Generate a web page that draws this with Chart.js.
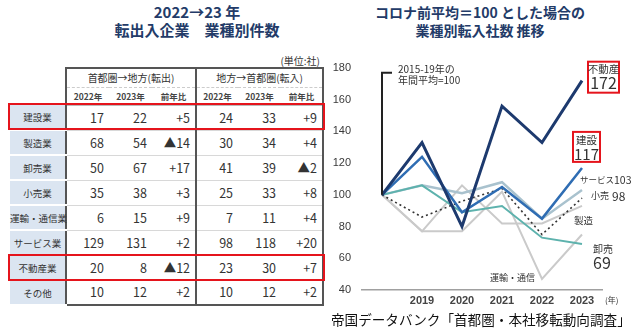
<!DOCTYPE html>
<html lang="ja">
<head>
<meta charset="utf-8">
<script src="https://cdn.jsdelivr.net/npm/chart.js@4.4.1/dist/chart.umd.min.js"></script>
<style>
  body { margin: 0; width: 640px; height: 331px; background: #fff; position: relative; overflow: hidden;
         font-family: "Noto Sans CJK JP", "Noto Sans", sans-serif; color: #333; }
  .title { position: absolute; top: 3px; width: 300px; text-align: center; color: #233b68;
           font-weight: bold; line-height: 18px; }
  #left-title { left: 47px; font-size: 15px; }
  #right-title { left: 330px; font-size: 14px; }
  #unit { position: absolute; right: 320px; top: 53px; font-size: 10px; color: #333; }
  #tbl { position: absolute; left: 10px; top: 67px; border-collapse: collapse; table-layout: fixed; width: 313px; }
  #tbl td { padding: 0; white-space: nowrap; box-sizing: border-box; line-height: 14px; }
  #tbl tr.h1 td { height: 19px; font-size: 10px; text-align: center; color: #333; }
  #tbl tr.h2 td { height: 18px; font-size: 8.5px; font-weight: bold; text-align: center; color: #444; }
  #tbl tr.row td { height: 25px; font-size: 12.5px; text-align: right; padding-right: 5px; border-bottom: 1px solid #d8d8d8; }
  #tbl tr.row td.lab { background: #dbe5f1; text-align: center; padding-right: 0; font-size: 9.5px; border-bottom: 2px solid #fff; }
  #tbl td.gl { border-left: 2px solid #555; }
  #tbl td.gr { border-right: 2px solid #555; }
  #tbl tr.h1 td.top { border-top: 2px solid #555; border-bottom: 1px dashed #ccc; }
  #tbl tr.h2 td { border-bottom: 1px solid #bbb; }
  #tbl tr.h2 td.blank, #tbl tr.h1 td.blank { border: none; }
  #tbl tr.last td { border-bottom: 2px solid #555; }
  #tbl tr.last td.lab { border-bottom: 2px solid #fff; }
  .redbox { position: absolute; border: 2px solid #e5141c; box-sizing: border-box; }
  #source { position: absolute; left: 331px; top: 309px; font-size: 13.6px; color: #111; white-space: nowrap; }
  #wrap { position: absolute; left: 330px; top: 0; width: 310px; height: 331px; }
</style>
</head>
<body>
<div id="left-title" class="title">2022→23 年<br>転出入企業　業種別件数</div>
<div id="right-title" class="title">コロナ前平均＝100 とした場合の<br>業種別転入社数 推移</div>
<div id="unit">(単位:社)</div>
<table id="tbl">
  <colgroup>
    <col style="width:56px"><col style="width:43px"><col style="width:43px"><col style="width:44px">
    <col style="width:42px"><col style="width:43px"><col style="width:42px">
  </colgroup>
  <tbody id="tbl-body"></tbody>
</table>
<div class="redbox" style="left:8px; top:103px; width:317px; height:27px;"></div>
<div class="redbox" style="left:8px; top:254px; width:317px; height:27px;"></div>
<div id="wrap"><canvas id="trend" width="310" height="331"></canvas></div>
<div id="source">帝国データバンク「首都圏・本社移転動向調査」</div>

<script>
// 転出入件数（社）
const industries = ["建設業", "製造業", "卸売業", "小売業", "運輸・通信業", "サービス業", "不動産業", "その他"];
const outbound2022 = [17, 68, 50, 35, 6, 129, 20, 10];
const outbound2023 = [22, 54, 67, 38, 15, 131, 8, 12];
const inbound2022 = [24, 30, 41, 25, 7, 98, 23, 10];
const inbound2023 = [33, 34, 39, 33, 11, 118, 30, 12];

// 転入社数の指数（2015-19年平均=100）
const years = ["", "2019", "2020", "2021", "2022", "2023"];
const realEstate = [100, 133, 80, 156, 133, 172];
const construction = [100, 124, 89, 105, 85, 117];
const services = [100, 106, 101, 108, 85, 103];
const retail = [100, 86, 96, 104, 75, 98];
const wholesale = [100, 106, 89, 93, 73, 69];
const manufacturing = [100, 77, 106, 82, 82, 93];
const transport = [100, 77, 77, 102, 47, 75];
const yTicks = [40, 60, 80, 100, 120, 140, 160, 180];

document.addEventListener("DOMContentLoaded", () => {
    const body = document.getElementById("tbl-body");

    const diffText = (a, b) => {
        const d = b - a;
        return d < 0 ? `▲${-d}` : `+${d}`;
    };

    body.innerHTML = `
        <tr class="h1"><td class="blank"></td>
            <td class="gl top" colspan="3">首都圏→地方(転出)</td>
            <td class="gl gr top" colspan="3">地方→首都圏(転入)</td></tr>
        <tr class="h2"><td class="blank"></td>
            <td class="gl">2022年</td><td>2023年</td><td>前年比</td>
            <td class="gl">2022年</td><td>2023年</td><td class="gr">前年比</td></tr>
    `;

    industries.forEach((name, i) => {
        const row = document.createElement("tr");
        row.className = i === industries.length - 1 ? "row last" : "row";
        row.innerHTML = `
            <td class="lab">${name}</td>
            <td class="gl">${outbound2022[i]}</td>
            <td>${outbound2023[i]}</td>
            <td>${diffText(outbound2022[i], outbound2023[i])}</td>
            <td class="gl">${inbound2022[i]}</td>
            <td>${inbound2023[i]}</td>
            <td class="gr">${diffText(inbound2022[i], inbound2023[i])}</td>
        `;
        body.appendChild(row);
    });

    const last = years.length - 1;

    // 右端のラベル、赤枠、基準値の注記
    const notes = {
        id: "notes",
        afterDatasetsDraw(chart) {
            const { ctx } = chart;
            const xs = chart.scales.x;
            const ys = chart.scales.y;
            const endX = xs.getPixelForValue(last);
            const at = (v) => ys.getPixelForValue(v);
            const font = (size, weight = "normal") => `${weight} ${size}px "Noto Sans CJK JP", "Noto Sans", sans-serif`;

            ctx.save();
            ctx.textBaseline = "middle";
            ctx.fillStyle = "#333";

            // 基準線
            const baseX = xs.getPixelForValue(0);
            ctx.strokeStyle = "#222";
            ctx.lineWidth = 2;
            ctx.beginPath();
            ctx.moveTo(baseX, at(100));
            ctx.lineTo(baseX, at(177));
            ctx.lineTo(baseX + 10, at(177));
            ctx.stroke();
            ctx.font = font(10);
            ctx.textAlign = "left";
            ctx.fillText("2015-19年の", baseX + 16, at(179.5));
            ctx.fillText("年間平均=100", baseX + 16, at(172.5));

            // 不動産
            let y = at(realEstate[last]);
            ctx.strokeStyle = "#e5141c";
            ctx.lineWidth = 2;
            ctx.strokeRect(endX + 6, y - 19, 31, 31);
            ctx.textAlign = "center";
            ctx.font = font(10.5);
            ctx.fillText("不動産", endX + 21.5, y - 12);
            ctx.font = font(16);
            ctx.fillText(String(realEstate[last]), endX + 21.5, y + 2);

            // 建設
            y = at(construction[last]);
            ctx.strokeRect(endX - 9, y - 36, 27, 30);
            ctx.font = font(10.5);
            ctx.fillText("建設", endX + 4.5, y - 28);
            ctx.font = font(15);
            ctx.fillText(String(construction[last]), endX + 4.5, y - 14);

            ctx.textAlign = "left";
            // サービス
            y = at(services[last]);
            ctx.font = font(8.5);
            ctx.fillText("サービス", endX - 2, y - 10);
            let w = ctx.measureText("サービス").width;
            ctx.font = font(10.5);
            ctx.fillText(String(services[last]), endX - 2 + w, y - 10);

            // 小売
            y = at(retail[last]);
            ctx.font = font(9);
            ctx.fillText("小売", endX + 9, y - 2);
            w = ctx.measureText("小売 ").width;
            ctx.font = font(12);
            ctx.fillText(String(retail[last]), endX + 10 + w, y - 2);

            // 製造
            y = at(manufacturing[last]);
            ctx.font = font(9.5);
            ctx.fillText("製造", endX - 8, y + 14);

            // 卸売
            y = at(wholesale[last]);
            ctx.font = font(10);
            ctx.fillText("卸売", endX + 11, y + 5);
            ctx.font = font(16);
            ctx.fillText(String(wholesale[last]), endX + 11, y + 19);

            // 運輸・通信
            const tx = xs.getPixelForValue(4);
            ctx.font = font(9);
            ctx.textAlign = "right";
            ctx.fillText("運輸・通信", tx - 7, at(transport[4]) - 1);

            // 単位
            ctx.textAlign = "left";
            ctx.font = font(8);
            ctx.fillText("(年)", endX + 23, ys.bottom + 10);
            ctx.restore();
        }
    };

    const line = (label, data, color, width, dash = []) => ({
        label, data,
        borderColor: color,
        borderWidth: width,
        borderDash: dash,
        pointRadius: 0,
        tension: 0,
        fill: false
    });

    new Chart(document.getElementById("trend"), {
        type: "line",
        data: {
            labels: years,
            datasets: [
                line("不動産", realEstate, "#1d3a6e", 3),
                line("建設", construction, "#2f6db3", 2.5),
                line("小売", retail, "#333333", 1.6, [2, 3]),
                line("卸売", wholesale, "#5db2ad", 2),
                line("サービス", services, "#a9c2ce", 2.5),
                line("製造", manufacturing, "#cacaca", 2),
                line("運輸・通信", transport, "#cacaca", 2)
            ]
        },
        options: {
            responsive: false,
            animation: false,
            layout: { padding: { top: 68, right: 38, bottom: 16, left: 0 } },
            plugins: { legend: { display: false }, tooltip: { enabled: false } },
            scales: {
                x: {
                    offset: true,
                    grid: { display: false, drawTicks: false },
                    border: { display: true, color: "#a0a0a0", width: 1.5 },
                    ticks: { color: "#444", font: { size: 11, weight: "bold" }, padding: 4, maxRotation: 0 },
                    afterFit: (s) => { s.height = 25; }
                },
                y: {
                    min: yTicks[0],
                    max: yTicks[yTicks.length - 1],
                    afterBuildTicks: (s) => { s.ticks = yTicks.map((v) => ({ value: v })); },
                    grid: { display: false, drawTicks: false },
                    border: { display: false },
                    ticks: { color: "#3a3a3a", font: { size: 11, weight: "500" }, padding: 11 },
                    afterFit: (s) => { s.width = 32; }
                }
            }
        },
        plugins: [notes]
    });
});
</script>
</body>
</html>
